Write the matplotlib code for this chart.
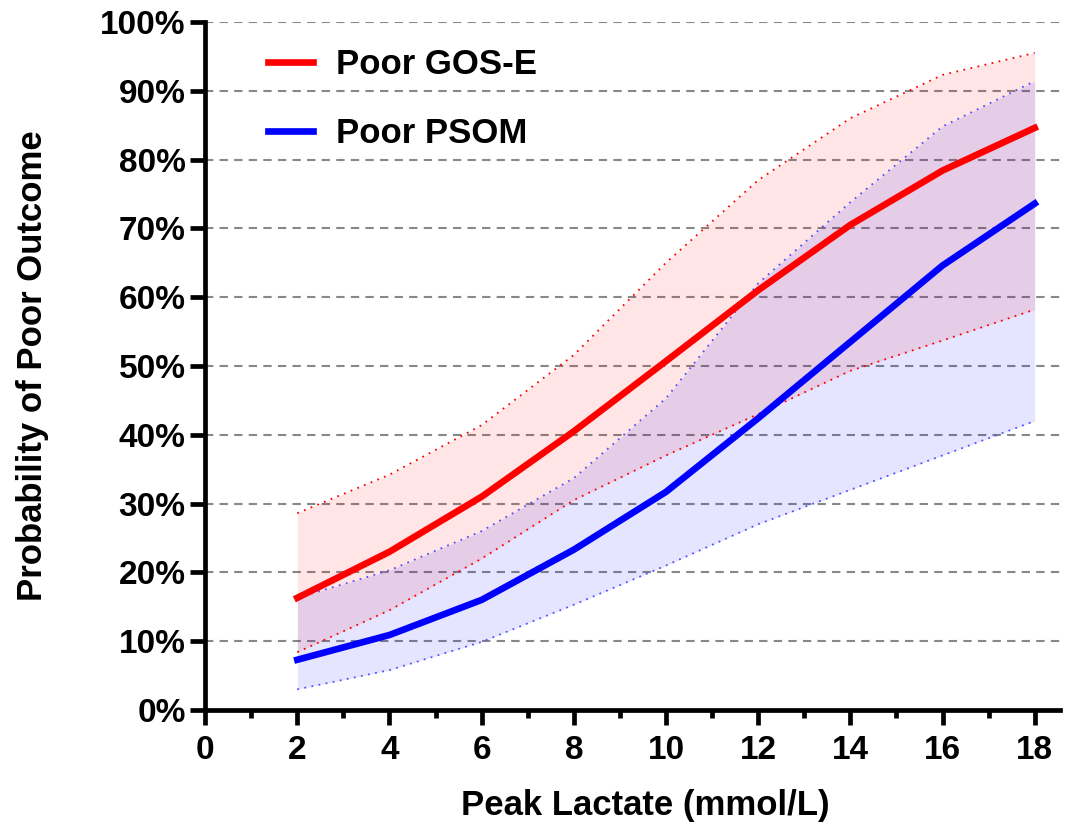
import numpy as np
import matplotlib
matplotlib.use("Agg")
import matplotlib.pyplot as plt
from matplotlib.ticker import FixedLocator, PercentFormatter

plt.rcParams['font.family'] = ['Liberation Sans', 'DejaVu Sans']
plt.rcParams['font.weight'] = 'bold'

lactate = [2, 4, 6, 8, 10, 12, 14, 16, 18]

# probabilities in %
gose = [16.3, 23.0, 31.0, 40.5, 50.7, 61.0, 70.5, 78.4, 84.6]
gose_hi = [28.6, 34.2, 41.4, 51.6, 65.0, 77.0, 86.0, 92.3, 95.5]
gose_lo = [8.4, 14.5, 22.0, 30.5, 37.0, 43.0, 49.3, 53.7, 58.2]

psom = [7.3, 10.9, 16.0, 23.3, 31.7, 42.4, 53.5, 64.6, 73.6]
psom_hi = [16.3, 20.3, 26.0, 33.7, 45.3, 62.0, 73.8, 84.8, 91.4]
psom_lo = [3.0, 5.8, 9.9, 15.3, 21.0, 27.0, 32.0, 37.0, 42.0]

fig = plt.figure(figsize=(10.74, 8.25), dpi=100)
ax = fig.add_axes([0.191, 0.1394, 0.796, 0.834])

ax.fill_between(lactate, gose_lo, gose_hi, color='#ff0000', alpha=0.1, linewidth=0)
ax.fill_between(lactate, psom_lo, psom_hi, color='#0000ff', alpha=0.1, linewidth=0)
ax.plot(lactate, gose_hi, color='red', lw=1.3, ls=(0, (1, 3)))
ax.plot(lactate, gose_lo, color='red', lw=1.3, ls=(0, (1, 3)))
ax.plot(lactate, psom_hi, color='#5050ff', lw=1.3, ls=(0, (1, 3)))
ax.plot(lactate, psom_lo, color='#5050ff', lw=1.3, ls=(0, (1, 3)))
ax.plot(lactate, gose, color='#ff0000', lw=4.8, label='Poor GOS-E', zorder=5)
ax.plot(lactate, psom, color='#0000ff', lw=4.8, label='Poor PSOM', zorder=5)

ax.set_xlim(0, 18.55)
ax.set_ylim(0, 100)
ax.yaxis.set_major_locator(FixedLocator(np.arange(0, 101, 10)))
ax.yaxis.set_major_formatter(PercentFormatter(decimals=0))
ax.xaxis.set_major_locator(FixedLocator(np.arange(0, 19, 2)))
ax.xaxis.set_minor_locator(FixedLocator(np.arange(1, 19, 2)))

for y in range(10, 101, 10):
    ax.axhline(y, color='#888888', lw=1.5, ls=(0, (4, 3)), zorder=0.5)

for s in ['top', 'right']:
    ax.spines[s].set_visible(False)
for s in ['left', 'bottom']:
    ax.spines[s].set_linewidth(3.4)
ax.tick_params(axis='both', which='major', width=3.4, length=11, labelsize=24, pad=3)
ax.tick_params(axis='x', which='minor', width=3.4, length=6)
ax.tick_params(axis='x', which='major', pad=7)
for lbl in ax.get_xticklabels() + ax.get_yticklabels():
    lbl.set_fontweight('bold')

ax.set_xlabel('Peak Lactate (mmol/L)', fontsize=25, fontweight='bold', labelpad=14)
ax.xaxis.set_label_coords(0.515, -0.115)
ax.set_ylabel('Probability of Poor Outcome', fontsize=25, fontweight='bold', labelpad=37)

leg = ax.legend(loc='upper left', bbox_to_anchor=(0.037, 1.007), frameon=False,
                fontsize=25, handlelength=1.3, handletextpad=0.65, labelspacing=1.02)
for t in leg.get_texts():
    t.set_fontweight('bold')

fig.savefig('out.png', dpi=100)
